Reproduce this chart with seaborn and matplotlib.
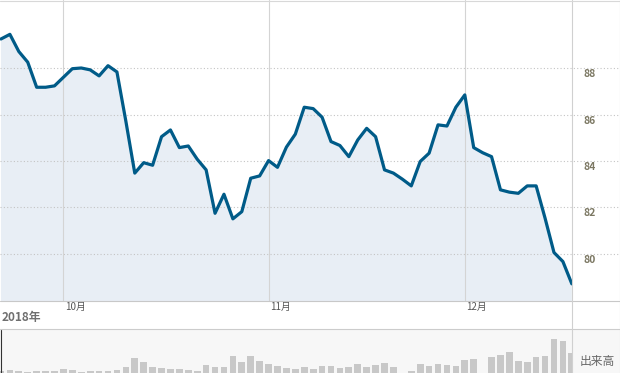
import matplotlib
matplotlib.use('Agg')
import matplotlib.pyplot as plt
import seaborn as sns
import pandas as pd
from matplotlib.lines import Line2D
from matplotlib.patches import Rectangle

# ---- data ----
price = [89.26, 89.46, 88.72, 88.26, 87.18, 87.18, 87.24, 87.61, 87.98, 88.01,
         87.93, 87.67, 88.11, 87.84, 85.72, 83.48, 83.93, 83.82, 85.05, 85.34,
         84.58, 84.65, 84.08, 83.62, 81.75, 82.57, 81.51, 81.82, 83.26, 83.36,
         84.02, 83.73, 84.60, 85.16, 86.32, 86.26, 85.89, 84.84, 84.67, 84.19,
         84.91, 85.41, 85.05, 83.62, 83.48, 83.22, 82.93, 83.98, 84.34, 85.56,
         85.51, 86.32, 86.85, 84.58, 84.36, 84.19, 82.76, 82.66, 82.61, 82.93,
         82.93, 81.54, 80.06, 79.67, 78.71]
volume = [2, 3, 2, 1, 2, 2, 2, 4, 3, 1, 2, 2, 2, 3, 6,
          15, 11, 6, 5, 4, 4, 3, 2, 8, 6, 6, 17, 11, 17, 12, 9, 7, 5, 4, 6,
          4, 7.3, 7.3, 5.3, 6.3, 9.3, 6.3, 8.3, 10.3, 6.3, 0, 2, 9.3, 7.3, 9.3,
          8.3, 7.3, 13, 14, 0, 16.3, 18, 21.3, 12, 11, 16, 17.3, 34.3, 32.3, 20.3]
month_labels = ['10月', '11月', '12月']
month_day_index = [7, 30, 52]
year_label = '2018年'
price_ticks = [80, 82, 84, 86, 88]
volume_label = '出来高'

df = pd.DataFrame({'day': range(len(price)), 'price': price, 'volume': volume})

sns.set_theme(style='white')
plt.rcParams['font.family'] = ['Noto Sans CJK JP', 'DejaVu Sans']

W, H = 620, 373
fig = plt.figure(figsize=(6.2, 3.73), dpi=100)
fig.patch.set_facecolor('white')


def fx(px):
    return px / W


def fy(py):
    return 1 - py / H


# volume panel background
fig.add_artist(Rectangle((0, 0), 1, fy(329.5), transform=fig.transFigure,
                         facecolor='#f7f7f7', edgecolor='none', zorder=0))

ax = fig.add_axes([0, fy(301), fx(572), 301 / H])
axv = fig.add_axes([0, 0, fx(572), fy(329.5)])
for a in (ax, axv):
    a.set_facecolor('none')
    for s in a.spines.values():
        s.set_visible(False)

XL = (-0.11, 64.02)

# price area + line
ax.fill_between(df['day'], df['price'], 70, color='#e8eef5', linewidth=0, zorder=1)
sns.lineplot(data=df, x='day', y='price', ax=ax, color='#005b88', linewidth=2.3,
             solid_joinstyle='round', solid_capstyle='round', zorder=4)
ax.set_xlim(*XL)
ax.set_ylim(77.97, 90.94)
ax.set_xticks([])
ax.set_yticks([])
ax.set_xlabel('')
ax.set_ylabel('')

# horizontal dotted grid + right labels
for t in price_ticks:
    ax.axhline(t, xmin=0, xmax=618 / 572, color='#c4c4c4', linewidth=0.8,
               linestyle=(0, (1, 2)), clip_on=False, zorder=2)
    ax.annotate(f'{t}', xy=(590 / 572, t), xycoords=('axes fraction', 'data'),
                xytext=(0, -4.3), textcoords='offset points', ha='center', va='center',
                fontsize=7.5, fontweight='bold', color='#7b7762', annotation_clip=False)

# month grid + labels
for m, lab in zip(month_day_index, month_labels):
    ax.axvline(m, color='#d4d4d4', linewidth=0.8, zorder=2)
    ax.annotate(lab, xy=(m, 0), xycoords=('data', 'axes fraction'),
                xytext=(1.0, -4.3), textcoords='offset points', ha='left', va='center',
                fontsize=7, color='#555555', annotation_clip=False)

# volume bars
sns.barplot(data=df, x='day', y='volume', ax=axv, native_scale=True, color='#c8c8c8',
            saturation=1, width=0.75, errorbar=None, linewidth=0)
axv.set_xlim(*XL)
axv.set_ylim(0, 43.5)
axv.set_xticks([])
axv.set_yticks([])
axv.set_xlabel('')
axv.set_ylabel('')

# structural lines
line_kw = dict(transform=fig.transFigure, linewidth=0.8, zorder=5)
fig.add_artist(Line2D([0, 1], [fy(301), fy(301)], color='#c8c8c8', **line_kw))
fig.add_artist(Line2D([0, 1], [fy(329), fy(329)], color='#cccccc', **line_kw))
fig.add_artist(Line2D([fx(572), fx(572)], [0, 1], color='#d0d0d0', **line_kw))
fig.add_artist(Line2D([0, 1], [fy(0.5), fy(0.5)], color='#d8d8d8', **line_kw))
fig.add_artist(Line2D([fx(619.5), fx(619.5)], [0, 1], color='#d8d8d8', **line_kw))
fig.add_artist(Line2D([fx(0.5), fx(0.5)], [0, fy(330)], color='#333333', **line_kw))

fig.text(fx(2), fy(318), year_label, ha='left', va='center', fontsize=8.5,
         fontweight='bold', color='#6f6f6f')
fig.text(fx(597), fy(361), volume_label, ha='center', va='center', fontsize=8.5,
         color='#666666')

fig.savefig('out.png', dpi=100)
